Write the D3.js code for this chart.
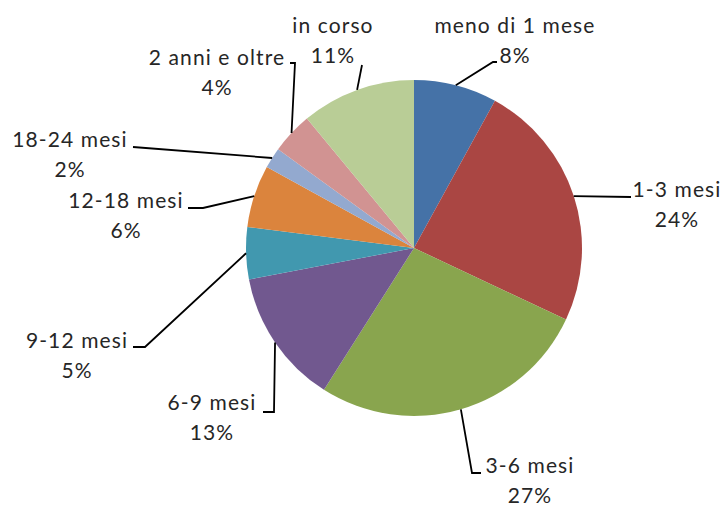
<!DOCTYPE html>
<html><head><meta charset="utf-8">
<script src="https://cdn.jsdelivr.net/npm/d3@7"></script>
<style>body{margin:0;background:#fff}svg{display:block}</style>
</head><body>
<svg id="c" width="728" height="508"></svg>
<script>
const categories = ["meno di 1 mese","1-3 mesi","3-6 mesi","6-9 mesi","9-12 mesi","12-18 mesi","18-24 mesi","2 anni e oltre","in corso"];
const values = [8,24,27,13,5,6,2,4,11];
const percentLabels = ["8%","24%","27%","13%","5%","6%","2%","4%","11%"];
const colors = ["#4572A7","#AA4643","#89A54E","#71588F","#4198AF","#DB843D","#93A9CF","#D19392","#B9CD96"];
// label layout: text centre x, first baseline y, leader points after the pie edge
const labelLayout = [
  {x:515,y:33,pts:[[493,62],[497,62]]},
  {x:677,y:197,pts:[[631,197]]},
  {x:530,y:473,pts:[[472,473],[481,473]]},
  {x:212,y:410,pts:[[274,412],[263,412]]},
  {x:77,y:348,pts:[[145,347],[133,347]]},
  {x:126,y:208,pts:[[203,208],[188,208]]},
  {x:70,y:147,pts:[[133,147]]},
  {x:217,y:65,pts:[[295,63],[290,63]]},
  {x:333,y:33,pts:[[362,65]]}
];
const cx=414, cy=248, R=168;
const svg=d3.select("#c");
const g=svg.append("g").attr("transform",`translate(${cx},${cy})`);
const pie=d3.pie().sort(null).value(d=>d)(values);
const arc=d3.arc().innerRadius(0).outerRadius(R);
g.selectAll("path.s").data(pie).join("path").attr("class","s")
  .attr("d",arc).attr("fill",(d,i)=>colors[i]);
const line=d3.line();
pie.forEach((d,i)=>{
  const a=(d.startAngle+d.endAngle)/2;
  const p0=[cx+R*Math.sin(a), cy-R*Math.cos(a)];
  svg.append("path").attr("d",line([p0,...labelLayout[i].pts]))
    .attr("fill","none").attr("stroke","#000").attr("stroke-width",1.8);
  const t=svg.append("text").attr("text-anchor","middle")
    .attr("font-family","Lato, 'Open Sans', sans-serif").attr("font-size",21)
    .attr("letter-spacing",1.1).attr("fill","#262626");
  t.append("tspan").attr("x",labelLayout[i].x).attr("y",labelLayout[i].y).text(categories[i]);
  t.append("tspan").attr("x",labelLayout[i].x).attr("y",labelLayout[i].y+30).text(percentLabels[i]);
});
</script>
</body></html>
